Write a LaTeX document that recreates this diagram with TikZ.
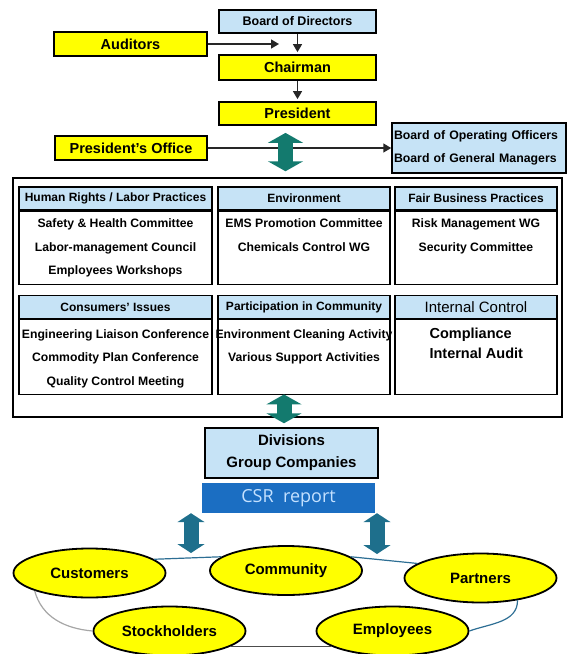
\documentclass[tikz,border=0pt]{standalone}
\usepackage{fontspec}
\setmainfont{Liberation Sans}
\newfontfamily\csrfont{Open Sans}
\usepackage{tikz}
\usetikzlibrary{shapes}
\usetikzlibrary{arrows.meta}
\usetikzlibrary{positioning}
\definecolor{boxyellow}{HTML}{FFFF00}
\definecolor{paleblue}{HTML}{C6E3F6}
\definecolor{csrblue}{HTML}{1B6EC2}
\definecolor{csrtext}{HTML}{C4E1FF}
\definecolor{greenteal}{HTML}{137A6E}
\definecolor{blueteal}{HTML}{1E6F8C}
\definecolor{linkblue}{HTML}{2D6E94}
\tikzstyle{yellowbox}=[
        draw,
        line width=1.8pt,
        fill=boxyellow,
        inner sep=0pt,
        minimum height=24pt,
        font=\bfseries\fontsize{14.5}{16}\selectfont
]
\tikzstyle{bluebox}=[draw,line width=1.5pt,fill=paleblue,inner sep=0pt]
\tikzstyle{panelhead}=[draw,line width=1.3pt,fill=paleblue,inner sep=0pt,minimum height=23pt,font=\bfseries\fontsize{12}{14}\selectfont]
\tikzstyle{panelbody}=[draw,line width=1.3pt,inner sep=0pt]
\tikzstyle{items}=[align=center,inner sep=0pt,font=\bfseries\fontsize{12.2}{23.5}\selectfont]
\tikzstyle{stake}=[ellipse,draw,line width=1.8pt,fill=boxyellow,inner sep=0pt,minimum width=152pt,minimum height=49pt,font=\bfseries\fontsize{15}{17}\selectfont]
\tikzstyle{suite}=[arrows={-Triangle[length=8pt,width=9pt]},line width=1.6pt,draw=black!85]
\tikzstyle{twoway}=[arrows={Triangle[length=10pt,width=35pt]-Triangle[length=10pt,width=35pt]},line width=15pt,draw=greenteal]
\tikzstyle{twowaysmall}=[arrows={Triangle[length=9pt,width=27pt]-Triangle[length=9pt,width=27pt]},line width=15pt,draw=blueteal]
\tikzstyle{link}=[line width=1.2pt,draw=linkblue]
\begin{document}
\begin{tikzpicture}[x=1pt,y=-1pt]
\useasboundingbox (0,0) rectangle (569,654);
\node[bluebox,minimum width=157pt,minimum height=23pt,font=\bfseries\fontsize{12.5}{14}\selectfont] (bod) at (297.5,21.5) {Board of Directors};
\node[yellowbox,minimum width=153pt] (aud) at (130.5,44) {Auditors};
\node[yellowbox,minimum width=157pt,minimum height=25pt] (chair) at (297.5,67.5) {Chairman};
\node[yellowbox,minimum width=157pt,minimum height=23pt] (pres) at (297.5,113.5) {President};
\node[yellowbox,minimum width=152pt] (poff) at (131,148) {President's Office};
\node[bluebox,minimum width=174pt,minimum height=50pt,text width=170pt,inner xsep=2pt,align=left,font=\bfseries\fontsize{12.3}{23}\selectfont] (booo) at (479,148) {Board of Operating Officers\\Board of General Managers};
\coordinate (audtip) at (279,44);
\node[draw,line width=1.5pt,minimum width=549pt,minimum height=239pt] (frame) at (287.5,297.5) {};
% first row
\node[panelhead,minimum width=193pt] (hr) at (115.5,198.5) {Human Rights / Labor Practices};
\node[panelbody,minimum width=193pt,minimum height=73pt,below=0pt of hr] (hrbody) {};
\node[items,below=8pt of hr] (hritems) {Safety \& Health Committee\\Labor-management Council\\Employees Workshops};
\node[panelhead,minimum width=172pt] (env) at (304,198.5) {Environment};
\node[panelbody,minimum width=172pt,minimum height=73pt,below=0pt of env] (envbody) {};
\node[items,below=8pt of env] (envitems) {EMS Promotion Committee\\Chemicals Control WG};
\node[panelhead,minimum width=162pt] (fbp) at (476,198.5) {Fair Business Practices};
\node[panelbody,minimum width=162pt,minimum height=73pt,below=0pt of fbp] (fbpbody) {};
\node[items,below=8pt of fbp] (fbpitems) {Risk Management WG\\Security Committee};
% second row
\node[panelhead,minimum width=193pt] (ci) at (115.5,307) {Consumers' Issues};
\node[panelbody,minimum width=193pt,minimum height=75pt,below=0pt of ci] (cibody) {};
\node[items,below=10pt of ci] (ciitems) {Engineering Liaison Conference\\Commodity Plan Conference\\Quality Control Meeting};
\node[panelhead,minimum width=172pt] (pc) at (304,307) {Participation in Community};
\node[panelbody,minimum width=172pt,minimum height=75pt,below=0pt of pc] (pcbody) {};
\node[items,below=10pt of pc] (pcitems) {Environment Cleaning Activity\\Various Support Activities};
\node[panelhead,minimum width=162pt,font=\fontsize{15}{17}\selectfont] (ic) at (476,307) {Internal Control};
\node[panelbody,minimum width=162pt,minimum height=75pt,below=0pt of ic] (icbody) {};
\node[items,align=left,font=\bfseries\fontsize{14.5}{20}\selectfont,below right=9pt and 35pt of ic.south west] (icitems) {Compliance\\Internal Audit};
% lower part
\node[bluebox,minimum width=173pt,minimum height=50pt,align=center,font=\bfseries\fontsize{15}{22}\selectfont] (div) at (291.5,453) {Divisions\\Group Companies};
\node[fill=csrblue,text=csrtext,minimum width=173pt,minimum height=30pt,inner sep=0pt,font=\csrfont\fontsize{18}{20}\selectfont] (csr) at (288.5,498) {CSR\ \ report};
\node[stake] (cust) at (89.5,573) {Customers};
\node[stake] (comm) at (286,570.5) {Community};
\node[stake] (part) at (480.5,578) {Partners};
\node[stake] (stock) at (169.5,631) {Stockholders};
\node[stake] (empl) at (392.5,631) {Employees};
\coordinate (ltip) at (191,553);
\coordinate (rtip) at (377,554);
%arrows
\draw[suite] (aud.east) -- (audtip);
\draw[suite,shorten >=2pt] (bod) -- (chair);
\draw[suite,shorten >=2pt] (chair) -- (pres);
\draw[suite] (poff.east) -- (poff.east -| booo.west);
\draw[twoway] ([xshift=-12pt,yshift=-7pt]pres.south) -- ([xshift=-12pt,yshift=6pt]pres.south |- frame.north);
\draw[twoway] ([xshift=-20pt,yshift=1pt]pcbody.south) -- ([xshift=-20pt,yshift=4pt]pcbody.south |- div.north);
\draw[twowaysmall] (csr.south -| ltip) -- (ltip);
\draw[twowaysmall] (csr.south -| rtip) -- (rtip);
%links
\draw[link] (cust.12) -- (comm.168);
\draw[link] (comm.12) -- (part.167);
\draw[link] (part.-31) to[out=-90,in=20] (empl.east);
\draw[link,draw=black!70] (stock.-14) -- (empl.-166);
\draw[link,draw=gray!70] (cust.-162) to[out=-75,in=175] (stock.west);
\end{tikzpicture}
\end{document}
